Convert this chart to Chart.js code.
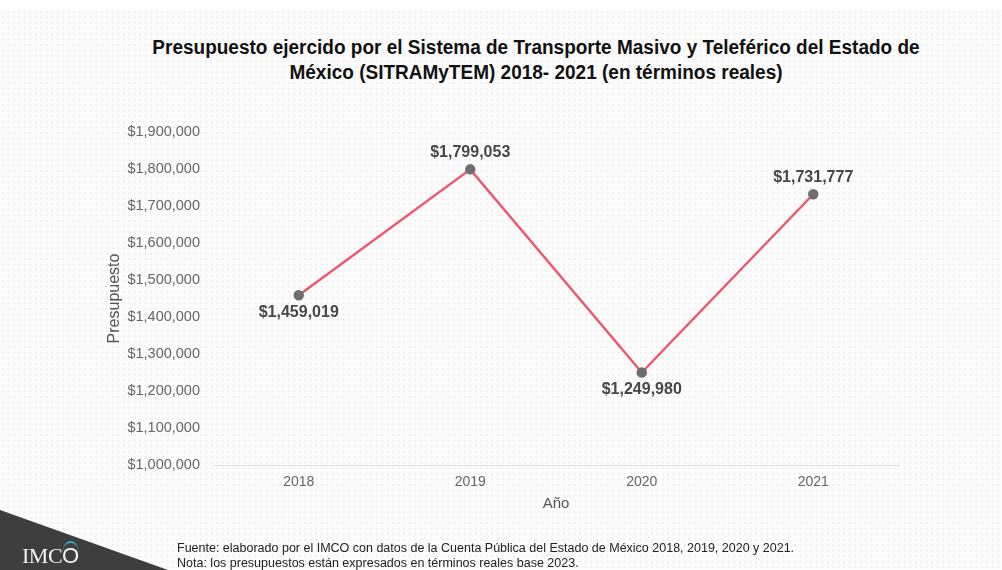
<!DOCTYPE html>
<html lang="es">
<head>
  <meta charset="UTF-8">
  <title>Presupuesto SITRAMyTEM 2018-2021</title>
  <style>
    * {
      margin: 0;
      padding: 0;
      box-sizing: border-box;
      font-family: "Liberation Sans", Arial, sans-serif;
    }

    body {
      width: 1002px;
      height: 570px;
      overflow: hidden;
      background: #ffffff;
      position: relative;
    }

    .dots {
      position: absolute;
      left: 0;
      top: 9px;
      width: 1002px;
      height: 561px;
      background-color: #fcfcfc;
      background-image: radial-gradient(circle, #ededed 0.9px, transparent 1.3px);
      background-size: 5.5px 5.5px;
    }

    .title {
      position: absolute;
      left: 86px;
      width: 900px;
      top: 36px;
      text-align: center;
      font-size: 19px;
      font-weight: bold;
      line-height: 24px;
      color: #111;
      transform: scaleY(1.08);
    }

    #wrap {
      position: absolute;
      left: 0;
      top: 0;
      width: 1002px;
      height: 570px;
    }

    .corner {
      position: absolute;
      left: 0;
      bottom: 0;
      width: 168px;
      height: 60px;
      background: #3e3e3e;
      clip-path: polygon(0 0, 100% 100%, 0 100%);
    }

    .logo {
      position: absolute;
      left: 22px;
      top: 543px;
      font-family: "Liberation Serif", serif;
      font-size: 22px;
      color: #f2f2f2;
      letter-spacing: -0.5px;
    }

    .logo span {
      color: #f2f2f2;
      border-top: 2px solid #3aa6c0;
      border-radius: 50%;
    }

    .note {
      position: absolute;
      left: 177px;
      top: 541px;
      font-size: 12.5px;
      line-height: 14.5px;
      color: #222;
    }
  </style>
</head>
<body>
  <div class="dots"></div>
  <div class="title">
    Presupuesto ejercido por el Sistema de Transporte Masivo y Teleférico del Estado de<br>
    México (SITRAMyTEM) 2018- 2021 (en términos reales)
  </div>
  <div id="wrap"><canvas id="chart"></canvas></div>
  <div class="corner"></div>
  <div class="logo">IMC<span>O</span></div>
  <div class="note">
    Fuente: elaborado por el IMCO con datos de la Cuenta Pública del Estado de México 2018, 2019, 2020 y 2021.<br>
    Nota: los presupuestos están expresados en términos reales base 2023.
  </div>

  <script src="https://cdn.jsdelivr.net/npm/chart.js"></script>
  <script>
    const years = ['2018', '2019', '2020', '2021'];
    const budget = [1459019, 1799053, 1249980, 1731777];
    const yMin = 1000000;
    const yMax = 1900000;
    const yStep = 100000;

    const money = v => '$' + Math.round(v).toLocaleString('en-US');

    // value labels: above the point when it rose, below when it fell
    const pointLabels = {
      id: 'pointLabels',
      afterDatasetsDraw(chart) {
        const ctx = chart.ctx;
        const meta = chart.getDatasetMeta(0);
        const data = chart.data.datasets[0].data;
        ctx.save();
        ctx.font = 'bold 16px "Liberation Sans", Arial, sans-serif';
        ctx.fillStyle = '#474747';
        ctx.textAlign = 'center';
        ctx.textBaseline = 'middle';
        meta.data.forEach((pt, i) => {
          let up;
          if (i === 0) up = data[0] > data[1];
          else up = data[i] > data[i - 1];
          const y = up ? pt.y - 17 : pt.y + 17;
          ctx.fillText(money(data[i]), pt.x, y);
        });
        ctx.restore();
      }
    };

    new Chart(document.getElementById('chart'), {
      type: 'line',
      data: {
        labels: years,
        datasets: [{
          label: 'Presupuesto',
          data: budget,
          borderColor: '#f0566f',
          borderWidth: 2.5,
          pointBackgroundColor: '#6e6e6e',
          pointBorderColor: '#6e6e6e',
          pointRadius: 4,
          tension: 0
        }]
      },
      options: {
        responsive: true,
        maintainAspectRatio: false,
        animation: false,
        layout: {
          padding: { left: 101, right: 103, top: 132, bottom: 53 }
        },
        plugins: {
          legend: { display: false },
          tooltip: { enabled: false }
        },
        scales: {
          x: {
            offset: true,
            grid: { display: false, drawTicks: false },
            border: { display: true, color: '#dedede', width: 1 },
            ticks: {
              color: '#666',
              padding: 9,
              font: { size: 14, family: '"Liberation Sans", Arial, sans-serif' }
            },
            title: {
              display: true,
              text: 'Año',
              color: '#555',
              padding: { top: 4, bottom: 4 },
              font: { size: 15, family: '"Liberation Sans", Arial, sans-serif' }
            },
            afterFit: s => { s.height = 52; }
          },
          y: {
            min: yMin,
            max: yMax,
            grid: { display: false, drawTicks: false },
            border: { display: false },
            ticks: {
              stepSize: yStep,
              color: '#666',
              padding: 13,
              callback: v => money(v),
              font: { size: 14.5, family: '"Liberation Sans", Arial, sans-serif' }
            },
            title: {
              display: true,
              text: 'Presupuesto',
              color: '#555',
              padding: { top: 4, bottom: 4 },
              font: { size: 16, family: '"Liberation Sans", Arial, sans-serif' }
            },
            afterFit: s => { s.width = 112; }
          }
        }
      },
      plugins: [pointLabels]
    });
  </script>
</body>
</html>
